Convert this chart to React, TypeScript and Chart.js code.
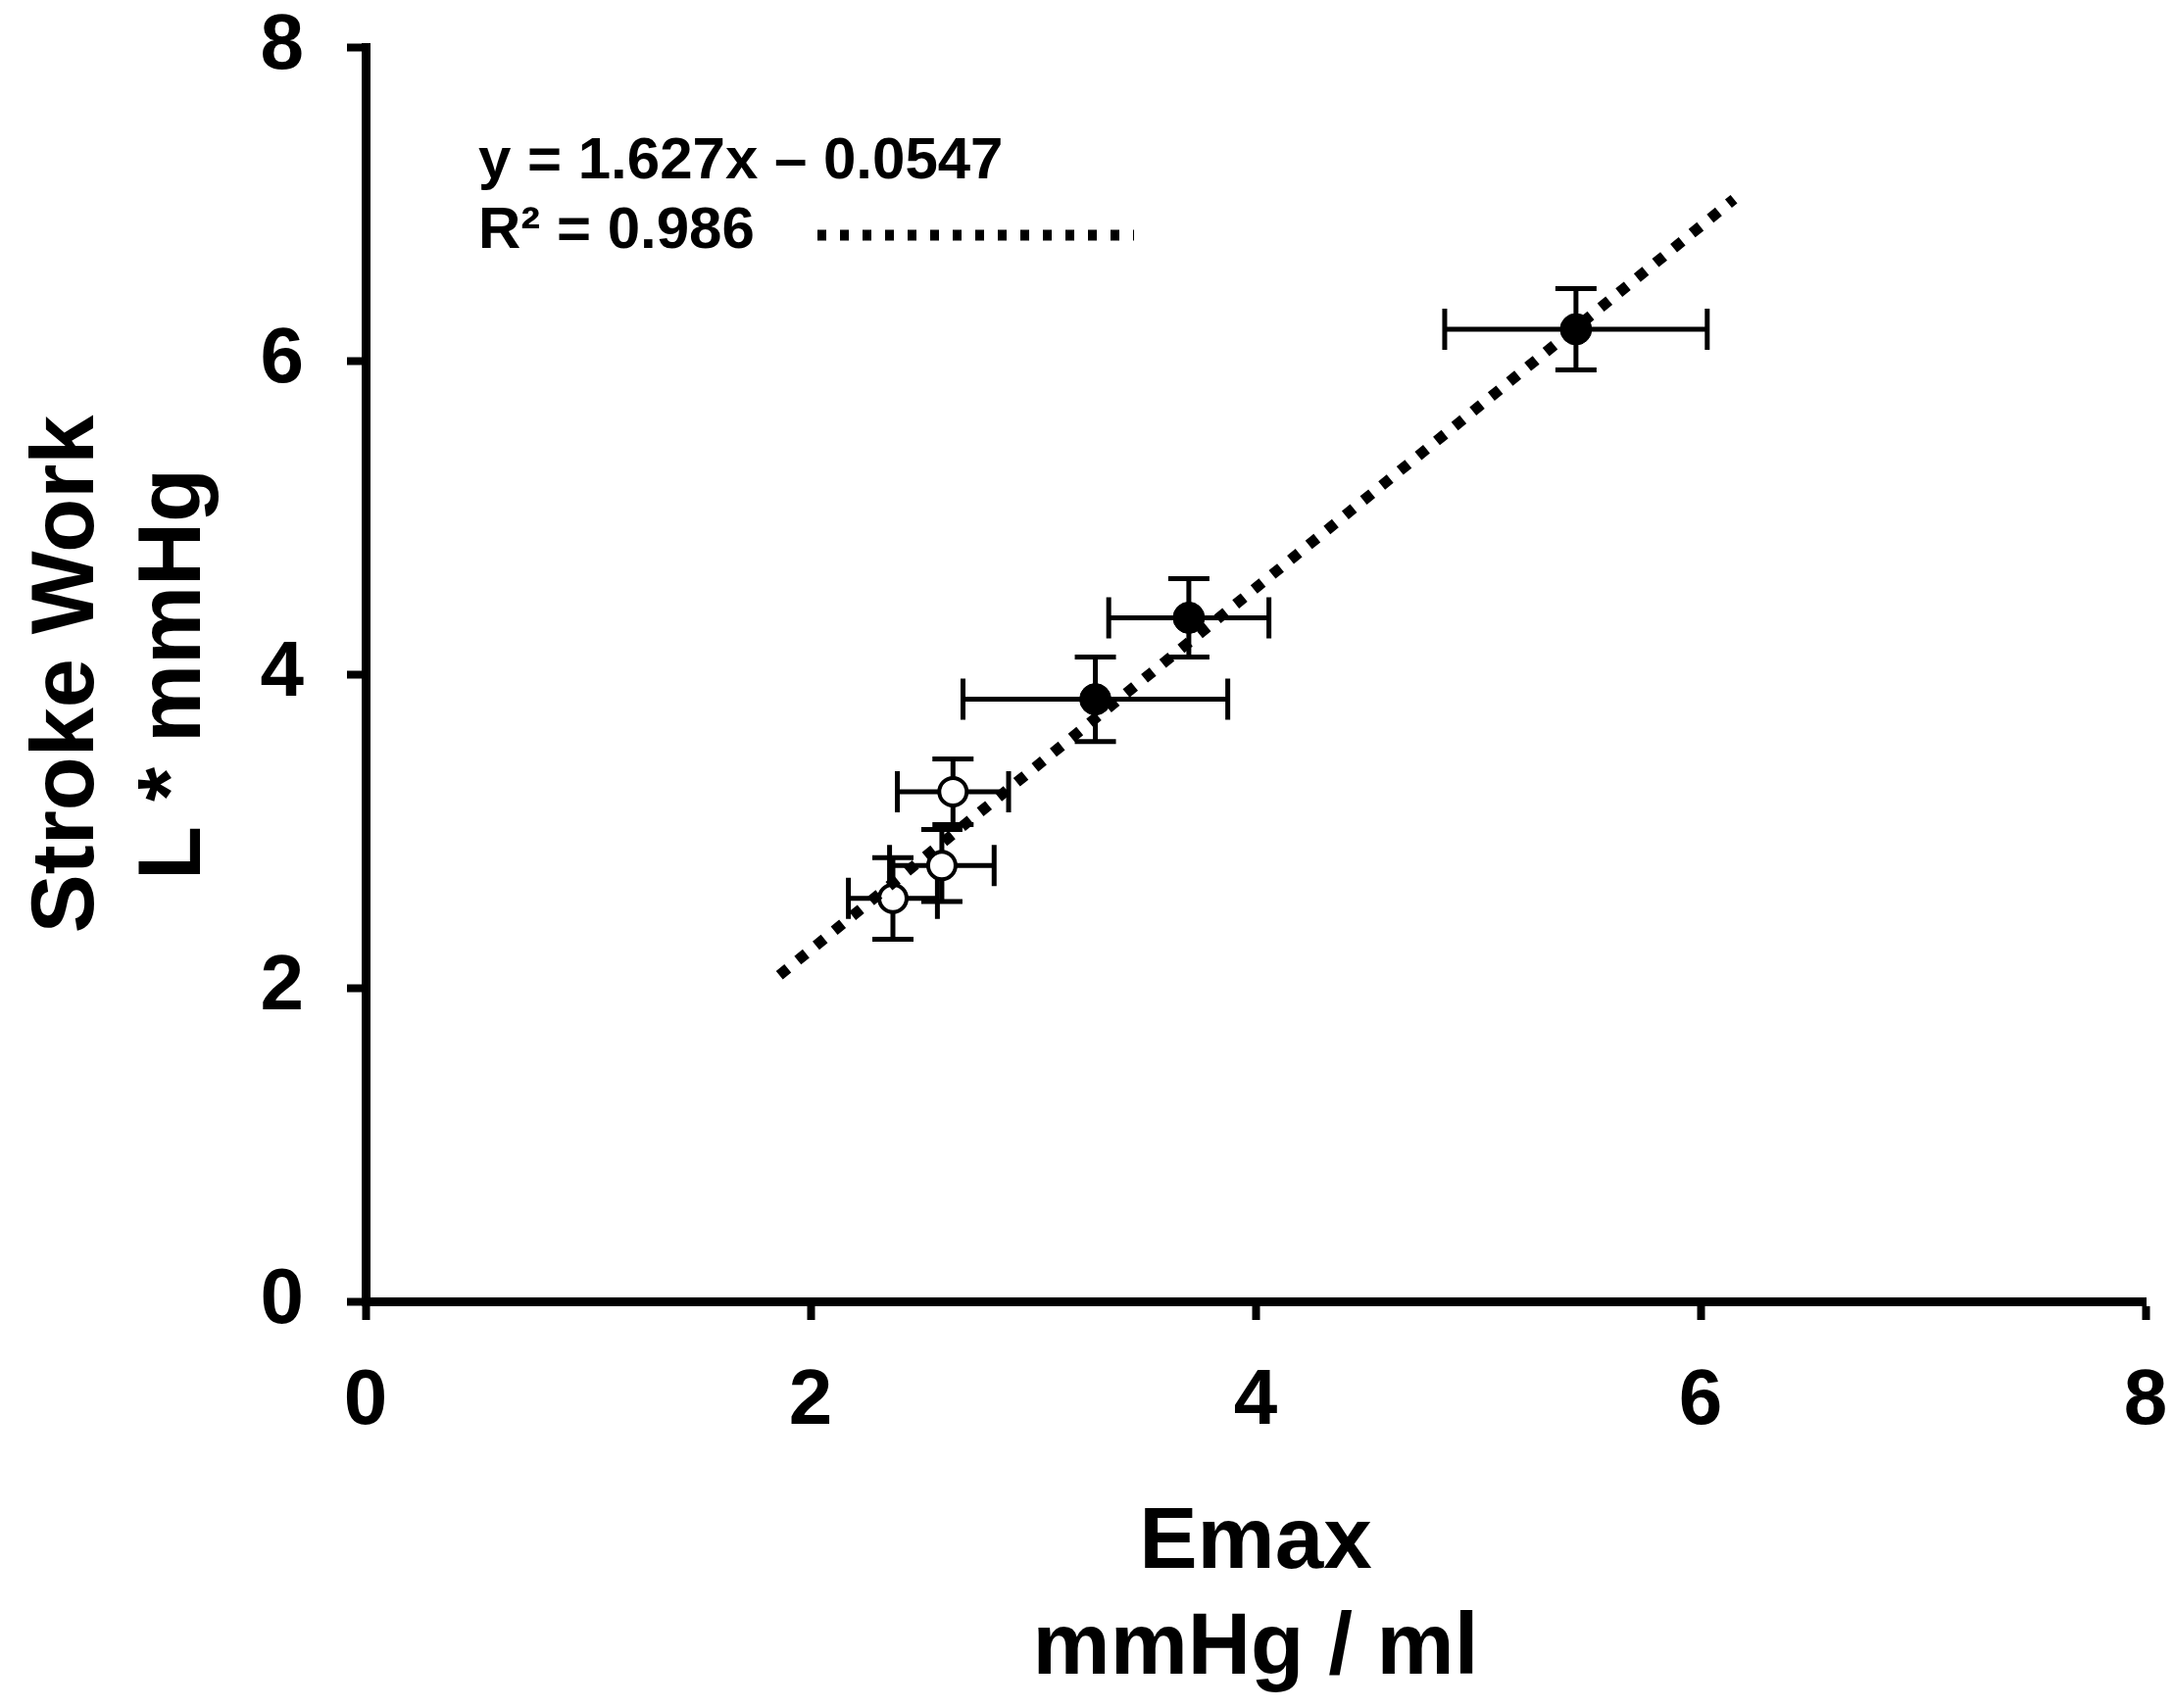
import { useEffect, useRef } from 'react'
import { Chart, registerables } from 'chart.js'
import type { Plugin } from 'chart.js'

Chart.register(...registerables)

const filledX = [5.44, 3.7, 3.28]
const filledY = [6.2, 4.36, 3.84]
const filledXErr = [0.59, 0.36, 0.595]
const filledYErr = [0.26, 0.25, 0.27]

const openX = [2.64, 2.59, 2.37]
const openY = [3.25, 2.78, 2.57]
const openXErr = [0.25, 0.235, 0.2]
const openYErr = [0.21, 0.23, 0.26]

const trendX = [1.86, 6.15]
const trendY = [2.08, 7.03]

const xTicks = [0, 2, 4, 6, 8]
const yTicks = [0, 2, 4, 6, 8]

const equationText = 'y = 1.627x – 0.0547'
const r2Text = 'R² = 0.986'
const xTitle = ['Emax', 'mmHg / ml']
const yTitle = ['Stroke Work', 'L * mmHg']

const FONT = "'Liberation Sans', Arial, sans-serif"

type ErrSet = { x: number[]; y: number[]; xe: number[]; ye: number[] }
const errorSets: ErrSet[] = [
  { x: filledX, y: filledY, xe: filledXErr, ye: filledYErr },
  { x: openX, y: openY, xe: openXErr, ye: openYErr },
]

const errorBars: Plugin<'scatter'> = {
  id: 'errorBars',
  beforeDatasetsDraw(chart) {
    const { ctx, scales } = chart
    const xs = scales.x
    const ys = scales.y
    const cap = 21
    ctx.save()
    ctx.strokeStyle = '#000'
    ctx.lineWidth = 5
    ctx.lineCap = 'butt'
    for (const s of errorSets) {
      s.x.forEach((xv, i) => {
        const px = xs.getPixelForValue(xv)
        const py = ys.getPixelForValue(s.y[i])
        const x0 = xs.getPixelForValue(xv - s.xe[i])
        const x1 = xs.getPixelForValue(xv + s.xe[i])
        const y0 = ys.getPixelForValue(s.y[i] - s.ye[i])
        const y1 = ys.getPixelForValue(s.y[i] + s.ye[i])
        ctx.beginPath()
        ctx.moveTo(x0, py); ctx.lineTo(x1, py)
        ctx.moveTo(x0, py - cap); ctx.lineTo(x0, py + cap)
        ctx.moveTo(x1, py - cap); ctx.lineTo(x1, py + cap)
        ctx.moveTo(px, y0); ctx.lineTo(px, y1)
        ctx.moveTo(px - cap, y0); ctx.lineTo(px + cap, y0)
        ctx.moveTo(px - cap, y1); ctx.lineTo(px + cap, y1)
        ctx.stroke()
      })
    }
    ctx.restore()
  },
}

const fitNote: Plugin<'scatter'> = {
  id: 'fitNote',
  afterDraw(chart) {
    const { ctx, chartArea } = chart
    const left = chartArea.left + 115
    ctx.save()
    ctx.fillStyle = '#000'
    ctx.font = `bold 60px ${FONT}`
    ctx.textBaseline = 'middle'
    ctx.textAlign = 'left'
    ctx.fillText(equationText, left, chartArea.top + 117)
    ctx.fillText(r2Text, left, chartArea.top + 188)
    ctx.strokeStyle = '#000'
    ctx.lineWidth = 11
    ctx.setLineDash([9, 14])
    ctx.beginPath()
    ctx.moveTo(chartArea.left + 461, chartArea.top + 192)
    ctx.lineTo(chartArea.left + 784, chartArea.top + 192)
    ctx.stroke()
    ctx.restore()
  },
}

export default function App() {
  const canvasRef = useRef<HTMLCanvasElement>(null)

  useEffect(() => {
    if (!canvasRef.current) return
    const axisCommon = {
      type: 'linear' as const,
      min: 0,
      max: 8,
      border: { display: true, color: '#000', width: 9 },
      grid: {
        display: true,
        drawOnChartArea: false,
        drawTicks: true,
        tickLength: 19,
        tickWidth: 8,
        tickColor: '#000',
        color: '#000',
      },
    }
    const chart = new Chart(canvasRef.current, {
      type: 'scatter',
      data: {
        datasets: [
          {
            label: 'trend',
            data: trendX.map((x, i) => ({ x, y: trendY[i] })),
            showLine: true,
            borderColor: '#000',
            borderWidth: 11,
            borderDash: [11, 13],
            borderCapStyle: 'butt',
            pointRadius: 0,
            order: 0,
          },
          {
            label: 'filled',
            data: filledX.map((x, i) => ({ x, y: filledY[i] })),
            pointRadius: 16,
            pointBackgroundColor: '#000',
            pointBorderColor: '#000',
            pointBorderWidth: 1,
            order: 1,
          },
          {
            label: 'open',
            data: openX.map((x, i) => ({ x, y: openY[i] })),
            pointRadius: 14,
            pointBackgroundColor: '#fff',
            pointBorderColor: '#000',
            pointBorderWidth: 4,
            order: 1,
          },
        ],
      },
      options: {
        animation: false,
        responsive: true,
        maintainAspectRatio: false,
        layout: { padding: { left: 0, top: 48, right: 28, bottom: 0 } },
        plugins: { legend: { display: false }, tooltip: { enabled: false } },
        scales: {
          x: {
            ...axisCommon,
            position: 'bottom',
            afterBuildTicks: (s) => { s.ticks = xTicks.map((v) => ({ value: v })) },
            afterFit: (s) => {
              s.height = 415
              s.paddingLeft = 0
              s.paddingRight = 0
            },
            ticks: { color: '#000', padding: 36, font: { family: FONT, size: 80, weight: 'bold' } },
            title: {
              display: true,
              text: xTitle,
              color: '#000',
              padding: { top: 0, bottom: 6 },
              font: { family: FONT, size: 89, weight: 'bold', lineHeight: '108px' },
            },
          },
          y: {
            ...axisCommon,
            position: 'left',
            afterBuildTicks: (s) => { s.ticks = yTicks.map((v) => ({ value: v })) },
            afterFit: (s) => {
              s.width = 373
              s.paddingTop = 0
              s.paddingBottom = 0
            },
            ticks: { color: '#000', padding: 44, font: { family: FONT, size: 80, weight: 'bold' } },
            title: {
              display: true,
              text: yTitle,
              color: '#000',
              padding: { top: 16, bottom: 0 },
              font: { family: FONT, size: 90, weight: 'bold', lineHeight: '109px' },
            },
          },
        },
      },
      plugins: [errorBars, fitNote],
    })
    return () => chart.destroy()
  }, [])

  return (
    <div style={{ position: 'fixed', left: 0, top: 0, width: 2217, height: 1743, background: '#fff' }}>
      <canvas ref={canvasRef} />
    </div>
  )
}
